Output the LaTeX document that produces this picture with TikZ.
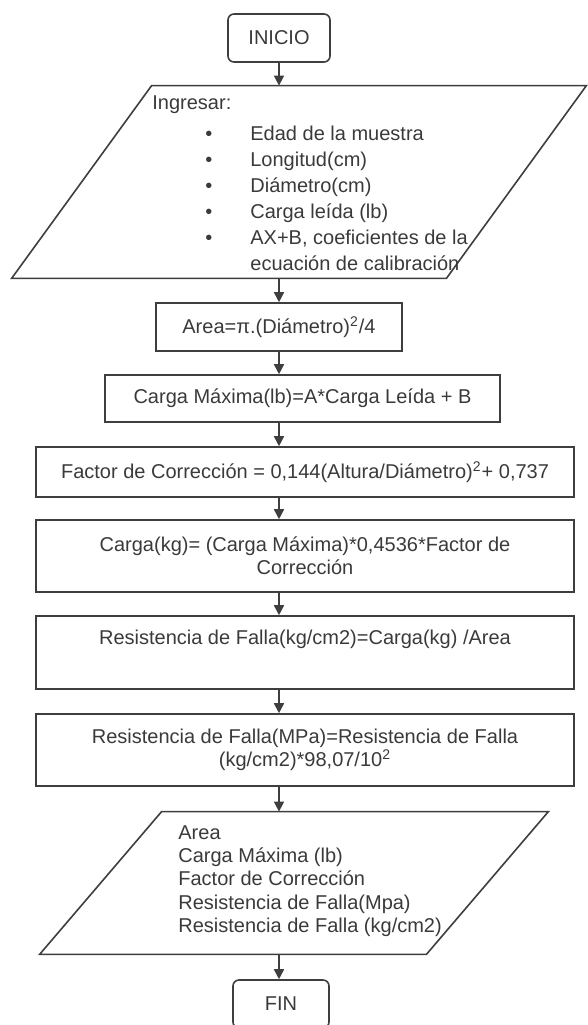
\documentclass[tikz,border=0pt]{standalone}
\usepackage{fontspec}
\setmainfont{Liberation Sans}
\usepackage{tikz}
\usetikzlibrary{arrows.meta, positioning, shapes.geometric, calc}
\definecolor{trazogris}{RGB}{62,62,62}
\definecolor{textogris}{RGB}{58,58,58}

\begin{document}
\begin{tikzpicture}[x=0.5pt, y=-0.5pt,
    every node/.style={font=\fontsize{10pt}{11.5pt}\selectfont, text=textogris},
    caja/.style={rectangle, draw=trazogris, line width=0.8pt, align=center, inner sep=0pt},
    terminal/.style={caja, rounded corners=3pt},
    marco/.style={rectangle, inner sep=0pt},
    contorno/.style={draw=trazogris, line width=0.8pt, line join=miter},
    flecha/.style={-{Triangle[width=5pt,length=5pt]}, line width=0.8pt, draw=trazogris}]
    \useasboundingbox (0,0) rectangle (588,1025);
    \coordinate (eje) at (279,0);

    \node[terminal, minimum width=51pt, minimum height=24pt] (inicio) at (279,38) {INICIO};
    \node[marco, minimum width=287pt, minimum height=96pt] (ingreso) at (299,182) {};
    \draw[contorno] (ingreso.south west) -- ($(ingreso.north west)+(140,0)$) -- (ingreso.north east) -- ($(ingreso.south east)-(140,0)$) -- cycle;
    \node[anchor=north west, align=left, inner sep=0pt, font=\fontsize{10pt}{13pt}\selectfont] (listaingreso) at (152,95) {Ingresar:\\[2.5pt]
        \hspace*{26.5pt}\makebox[22.5pt][l]{\textbullet}Edad de la muestra\\
        \hspace*{26.5pt}\makebox[22.5pt][l]{\textbullet}Longitud(cm)\\
        \hspace*{26.5pt}\makebox[22.5pt][l]{\textbullet}Diámetro(cm)\\
        \hspace*{26.5pt}\makebox[22.5pt][l]{\textbullet}Carga leída (lb)\\
        \hspace*{26.5pt}\makebox[22.5pt][l]{\textbullet}AX+B, coeficientes de la\\
        \hspace*{26.5pt}\makebox[22.5pt][l]{}ecuación de calibración};
    \node[caja, minimum width=123pt, minimum height=24pt] (area) at (279,327) {Area=π.(Diámetro)\textsuperscript{2}/4};
    \node[caja, minimum width=197.5pt, minimum height=23.5pt] (cargamax) at (302.5,398.5) {Carga Máxima(lb)=A*Carga Leída + B};
    \node[caja, minimum width=269pt, minimum height=25pt] (factor) at (305,472) {Factor de Corrección = 0,144(Altura/Diámetro)\textsuperscript{2}+ 0,737};
    \node[caja, minimum width=269pt, minimum height=36pt] (cargakg) at (305,556) {Carga(kg)= (Carga Máxima)*0,4536*Factor de\\Corrección};
    \node[caja, minimum width=269pt, minimum height=36.5pt] (falla) at (305,652.5) {Resistencia de Falla(kg/cm2)=Carga(kg) /Area\\\strut};
    \node[caja, minimum width=269pt, minimum height=36pt] (fallampa) at (305,750) {Resistencia de Falla(MPa)=Resistencia de Falla\\(kg/cm2)*98,07/10\textsuperscript{2}};
    \node[marco, minimum width=254pt, minimum height=71pt] (salida) at (294,883) {};
    \draw[contorno] (salida.south west) -- ($(salida.north west)+(122,0)$) -- (salida.north east) -- ($(salida.south east)-(122,0)$) -- cycle;
    \node[anchor=north west, align=left, inner sep=0pt, font=\fontsize{10pt}{11.65pt}\selectfont] (listasalida) at (178,825) {Area\\Carga Máxima (lb)\\Factor de Corrección\\Resistencia de Falla(Mpa)\\Resistencia de Falla (kg/cm2)};
    \node[terminal, minimum width=48pt, minimum height=24pt] (fin) at (281,1004) {FIN};

    \draw[flecha] (inicio.south) -- (eje |- ingreso.north);
    \draw[flecha] (eje |- ingreso.south) -- (area.north);
    \draw[flecha] (area.south) -- (eje |- cargamax.north);
    \draw[flecha] (eje |- cargamax.south) -- (eje |- factor.north);
    \draw[flecha] (eje |- factor.south) -- (eje |- cargakg.north);
    \draw[flecha] (eje |- cargakg.south) -- (eje |- falla.north);
    \draw[flecha] (eje |- falla.south) -- (eje |- fallampa.north);
    \draw[flecha] (eje |- fallampa.south) -- (eje |- salida.north);
    \draw[flecha] (eje |- salida.south) -- (eje |- fin.north);
\end{tikzpicture}
\end{document}
